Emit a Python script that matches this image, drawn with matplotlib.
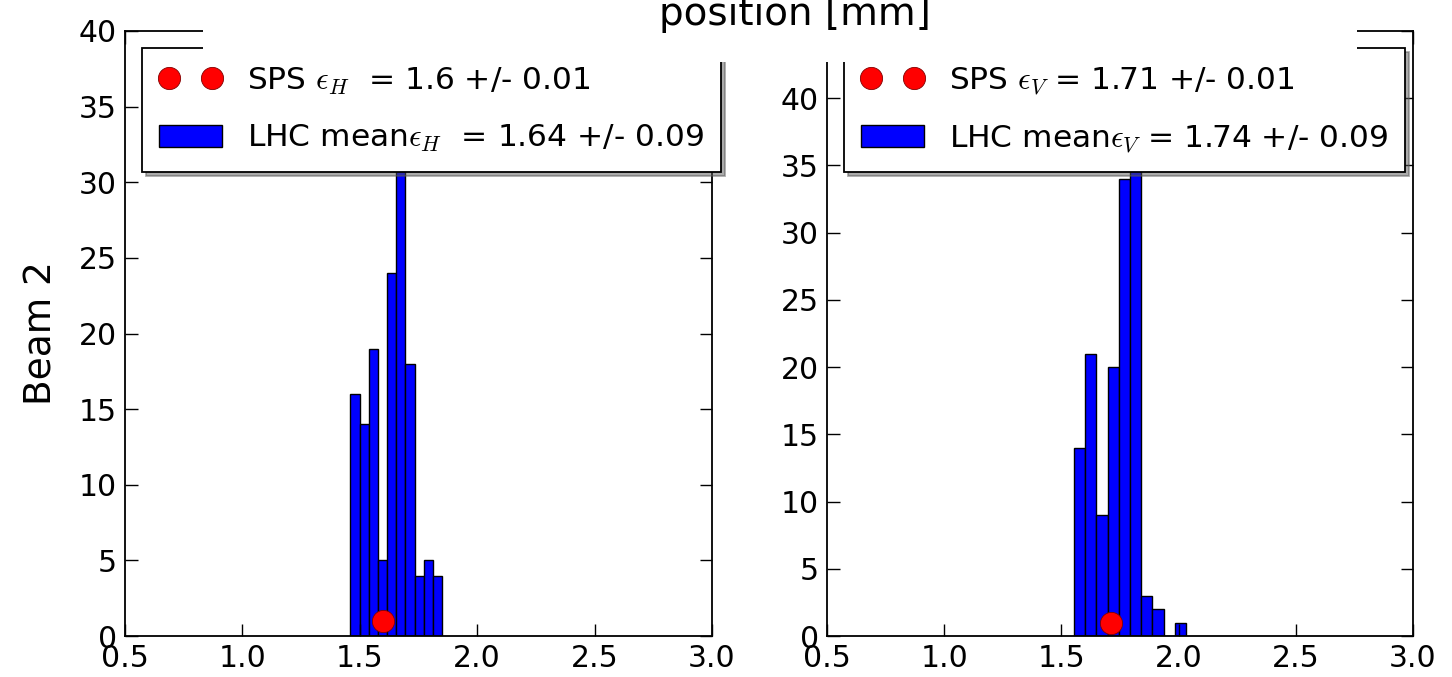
import matplotlib
matplotlib.use("Agg")
import matplotlib.pyplot as plt
import numpy as np
from matplotlib.patches import Rectangle

plt.rcParams["mathtext.fontset"] = "cm"
plt.rcParams["font.family"] = "DejaVu Sans"

# LHC bunch-by-bunch emittance histograms, beam 2
h_counts = [16, 14, 19, 5, 24, 37, 18, 4, 5, 4]
h_lo, h_hi = 1.46, 1.85
v_counts = [14, 21, 9, 20, 34, 43, 3, 2, 0, 1]
v_lo, v_hi = 1.554, 2.031

# SPS reference emittance
sps_h, sps_v = 1.6, 1.71
sps_y = 1

h_labels = ["SPS $\\epsilon_H$  = 1.6 +/- 0.01",
            "LHC mean$\\epsilon_H$  = 1.64 +/- 0.09"]
v_labels = ["SPS $\\epsilon_V$ = 1.71 +/- 0.01",
            "LHC mean$\\epsilon_V$ = 1.74 +/- 0.09"]

xticks = [0.5, 1.0, 1.5, 2.0, 2.5, 3.0]

W, H = 1452, 677
fig = plt.figure(figsize=(W / 100, H / 100), dpi=100)
ax1 = fig.add_axes([125 / W, 1 - 636 / H, 587 / W, 605 / H])
ax2 = fig.add_axes([827 / W, 1 - 636 / H, 586 / W, 605 / H])


def panel(ax, counts, lo, hi, sps, labels, ymax):
    edges = np.linspace(lo, hi, len(counts) + 1)
    bars = ax.bar(edges[:-1], counts, width=np.diff(edges), align="edge",
                  color="#0000ff", edgecolor="k", linewidth=1.0)
    pt, = ax.plot([sps], [sps_y], "o", color="red", markersize=16,
                  markeredgecolor="#800000", markeredgewidth=0.6, zorder=5)
    ax.set_xlim(0.5, 3.0)
    ax.set_ylim(0, ymax)
    ax.set_xticks(xticks)
    ax.set_xticklabels([f"{t:.1f}" for t in xticks])
    ax.set_yticks(np.arange(0, ymax + 1, 5))
    ax.tick_params(direction="in", length=9, width=1.0, labelsize=21.5,
                   top=True, right=True, pad=6)
    for s in ax.spines.values():
        s.set_linewidth(1.3)
    leg = ax.legend([pt, bars], labels, loc="upper left",
                    bbox_to_anchor=(17 / 586, (636 - 48) / 605),
                    borderaxespad=0, numpoints=2, fontsize=22.5,
                    handlelength=2.0, handletextpad=0.8, borderpad=0.55,
                    labelspacing=0.85,
                    fancybox=False, framealpha=1,
                    shadow={"ox": 3, "oy": -3, "color": "0.35"},
                    edgecolor="k")
    leg.get_frame().set_linewidth(1.3)


panel(ax1, h_counts, h_lo, h_hi, sps_h, h_labels, 40)
panel(ax2, v_counts, v_lo, v_hi, sps_v, v_labels, 45)

ax1.set_ylabel("Beam 2", fontsize=27, labelpad=14)

# the panel row above overlaps the top of this row
fig.add_artist(Rectangle((203 / W, 1 - 62 / H), (1357 - 203) / W, 62 / H,
                         transform=fig.transFigure, facecolor="white",
                         edgecolor="none", zorder=10))
fig.text(795 / W, 1 - 25 / H, "position [mm]", fontsize=28,
         ha="center", va="baseline", zorder=11)

fig.savefig("out.png", dpi=100)
